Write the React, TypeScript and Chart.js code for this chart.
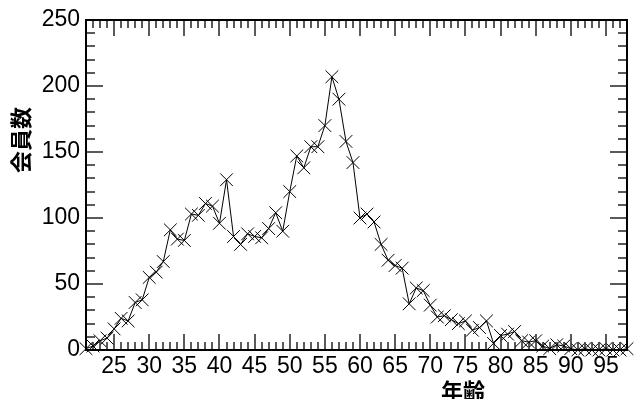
import React, { useEffect, useRef } from "react";
import { Chart, registerables } from "chart.js";

Chart.register(...registerables);

const ages = [
  21, 22, 23, 24, 25, 26, 27, 28, 29, 30, 31, 32, 33, 34, 35, 36, 37, 38, 39, 40,
  41, 42, 43, 44, 45, 46, 47, 48, 49, 50, 51, 52, 53, 54, 55, 56, 57, 58, 59, 60,
  61, 62, 63, 64, 65, 66, 67, 68, 69, 70, 71, 72, 73, 74, 75, 76, 77, 78, 79, 80,
  81, 82, 83, 84, 85, 86, 87, 88, 89, 90, 91, 92, 93, 94, 95, 96, 97, 98,
];
const members = [
  1, 3, 7, 9, 16, 24, 22, 36, 38, 55, 59, 67, 91, 84, 83, 103, 102, 111, 109, 96,
  129, 86, 80, 88, 86, 85, 92, 104, 90, 120, 147, 138, 154, 154, 170, 207, 190, 158, 142, 100,
  103, 97, 80, 68, 64, 62, 35, 47, 45, 34, 25, 26, 23, 20, 22, 15, 17, 22, 5, 11,
  12, 14, 7, 6, 7, 3, 1, 4, 3, 1, 0, 1, 0, 0, 1, 0, 0, 1,
];
const xTickLabels = [25, 30, 35, 40, 45, 50, 55, 60, 65, 70, 75, 80, 85, 90, 95];
const yTickLabels = [0, 50, 100, 150, 200, 250];
const xTitle = "年齢";
const yTitle = "会員数";

const framePlugin = {
  id: "frameTicks",
  beforeDatasetsDraw(chart: any) {
    const { ctx, chartArea } = chart;
    const { left, right, top, bottom } = chartArea;
    const xs = chart.scales.x;
    const ys = chart.scales.y;
    ctx.save();
    ctx.strokeStyle = "#5a5a5a";
    ctx.lineWidth = 2;
    ctx.beginPath();
    for (let v = Math.ceil(xs.min); v <= xs.max; v++) {
      const px = Math.round(xs.getPixelForValue(v));
      const len = v % 5 === 0 ? 16 : 8;
      ctx.moveTo(px, bottom);
      ctx.lineTo(px, bottom - len);
      ctx.moveTo(px, top);
      ctx.lineTo(px, top + len);
    }
    for (let v = ys.min; v <= ys.max; v += 10) {
      const py = Math.round(ys.getPixelForValue(v));
      const len = v % 50 === 0 ? 17 : 9;
      ctx.moveTo(left, py);
      ctx.lineTo(left + len, py);
      ctx.moveTo(right, py);
      ctx.lineTo(right - len, py);
    }
    ctx.stroke();
    ctx.strokeStyle = "#000";
    ctx.lineWidth = 2;
    ctx.strokeRect(left, top, right - left, bottom - top);
    ctx.restore();
  },
  afterDraw(chart: any) {
    const { ctx } = chart;
    ctx.save();
    ctx.fillStyle = "#000";
    ctx.font = 'bold 22px "Noto Sans CJK JP"';
    ctx.textAlign = "center";
    ctx.textBaseline = "middle";
    ctx.fillText(xTitle, 463, 391);
    ctx.translate(21, 140);
    ctx.rotate(-Math.PI / 2);
    ctx.fillText(yTitle, 0, 0);
    ctx.restore();
  },
};

export default function App() {
  const ref = useRef<HTMLCanvasElement>(null);
  useEffect(() => {
    document.body.style.margin = "0";
    const canvas = ref.current!;
    const chart = new Chart(canvas, {
      type: "line",
      data: {
        datasets: [
          {
            data: ages.map((a, i) => ({ x: a, y: members[i] })),
            borderColor: "#000",
            borderWidth: 1,
            pointStyle: "crossRot",
            pointRadius: 9,
            pointBorderWidth: 1,
            pointBorderColor: "#000",
            pointBackgroundColor: "#000",
            fill: false,
            tension: 0,
            clip: false as any,
          },
        ],
      },
      options: {
        responsive: false,
        animation: false,
        layout: { padding: { top: 20, right: 2, left: 0, bottom: 0 } },
        plugins: { legend: { display: false }, tooltip: { enabled: false } },
        scales: {
          x: {
            type: "linear",
            min: 21,
            max: 98,
            grid: { display: false, drawTicks: false },
            border: { display: false },
            afterBuildTicks: (s: any) => {
              s.ticks = xTickLabels.map((v) => ({ value: v }));
            },
            afterFit: (s: any) => {
              s.height = 49;
            },
            ticks: {
              autoSkip: false,
              maxRotation: 0,
              padding: 3,
              color: "#000",
              font: { family: '"Liberation Sans", Arial', size: 23 },
            },
          },
          y: {
            type: "linear",
            min: 0,
            max: 250,
            grid: { display: false, drawTicks: false },
            border: { display: false },
            afterBuildTicks: (s: any) => {
              s.ticks = yTickLabels.map((v) => ({ value: v }));
            },
            afterFit: (s: any) => {
              s.width = 86;
            },
            ticks: {
              autoSkip: false,
              padding: 6,
              color: "#000",
              font: { family: '"Liberation Sans", Arial', size: 23 },
            },
          },
        },
      },
      plugins: [framePlugin],
    });
    return () => chart.destroy();
  }, []);
  return <canvas ref={ref} width={637} height={399} style={{ display: "block" }} />;
}
